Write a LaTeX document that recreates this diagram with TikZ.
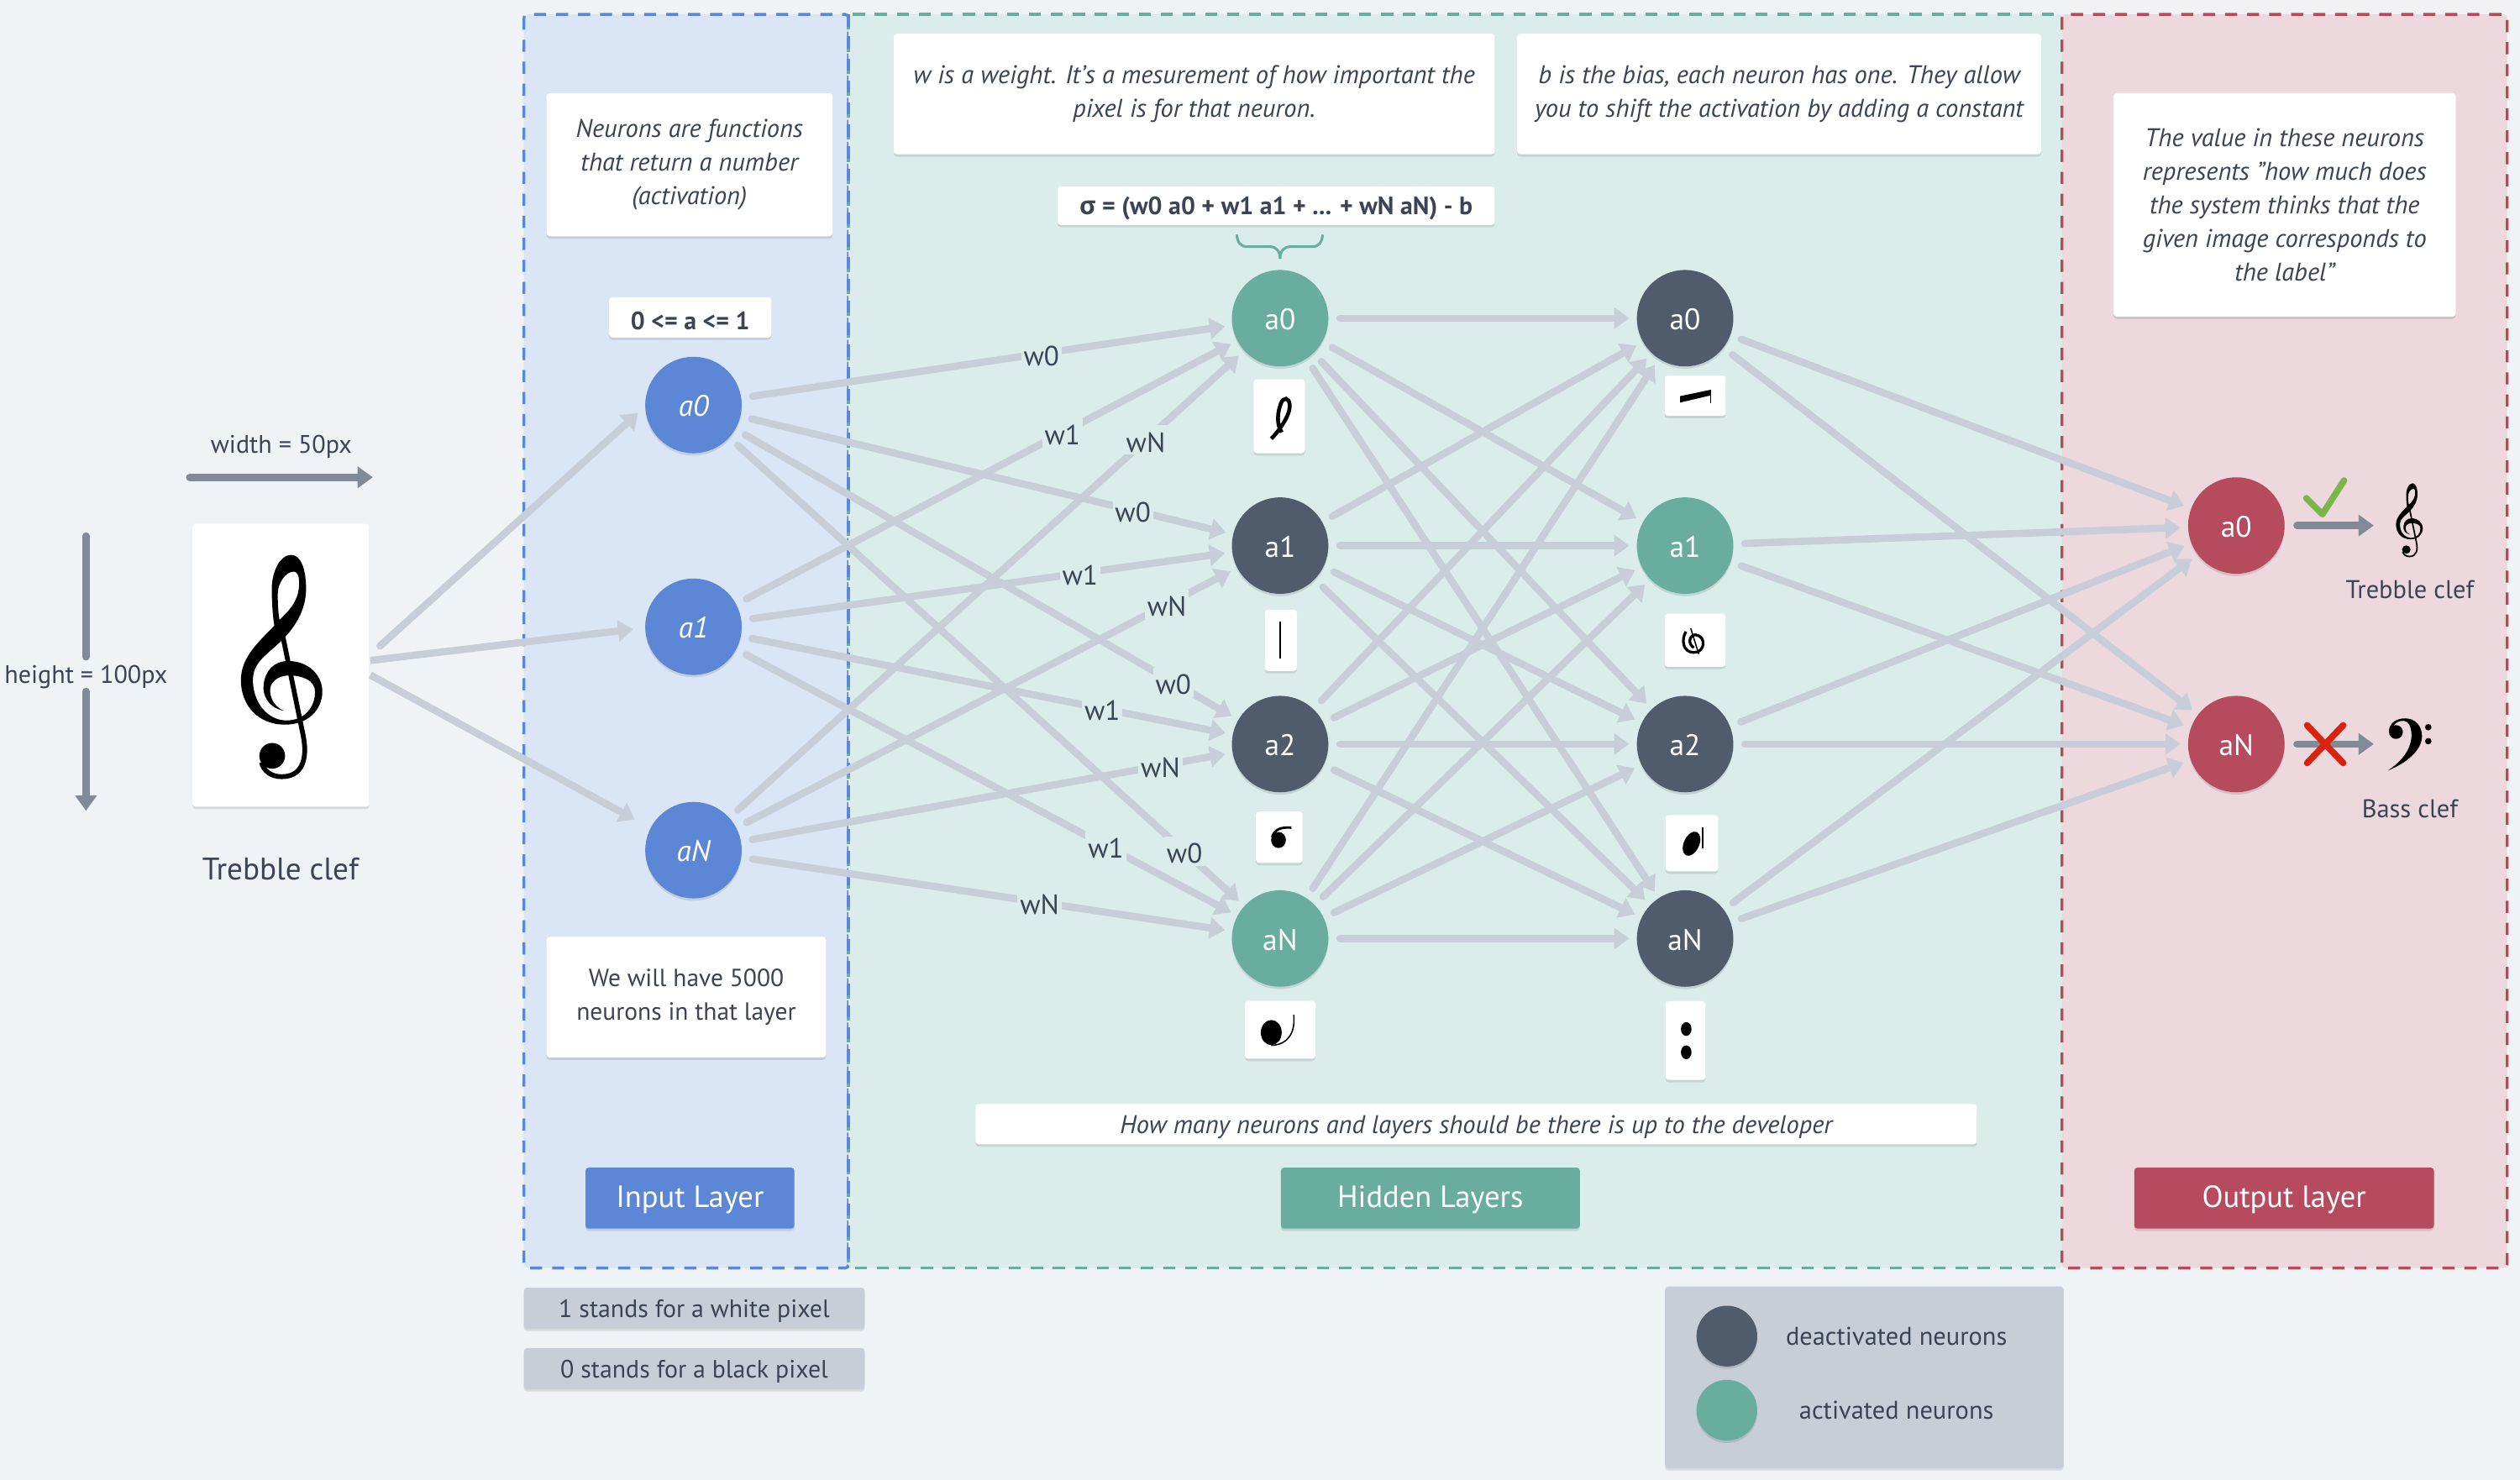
\documentclass[tikz,border=0pt]{standalone}
\usepackage{fontspec}
\setmainfont{PT Sans}
\newfontfamily\greekface{Open Sans}
\usepackage{xcolor}
\usepackage{tikz}
\usetikzlibrary{arrows.meta,calc,shadows}
\definecolor{pagebg}{HTML}{EFF3F6}
\definecolor{inputfill}{HTML}{DAE5F5}
\definecolor{hiddenfill}{HTML}{DAEDEA}
\definecolor{outputfill}{HTML}{EDD8DD}
\definecolor{inputink}{HTML}{5B87D6}
\definecolor{activeink}{HTML}{68AD9E}
\definecolor{idleink}{HTML}{505C6B}
\definecolor{outputink}{HTML}{B54B5D}
\definecolor{edgeink}{HTML}{C7CED8}
\definecolor{dimink}{HTML}{808B97}
\definecolor{textink}{HTML}{3A4454}
\definecolor{tickink}{HTML}{7AB648}
\definecolor{crossink}{HTML}{D9230F}
\tikzset{
  softshadow/.style={drop shadow={shadow xshift=0pt,shadow yshift=-1.5pt,opacity=.10,fill=black}},
  droptext/.style={execute at begin node={\rule{0pt}{#1}}},
  neurontip/.tip={Triangle[length=9.5pt,width=13pt]},
  neuron/.style={circle,inner sep=0pt,minimum size=60pt,text=white,softshadow,droptext=14.5pt,font=\fontsize{18.5}{22}\selectfont},
  panel/.style={rounded corners=2pt,line width=1.8pt,dash pattern=on 7.5pt off 6.2pt},
  synapse/.style={line width=4.5pt,edgeink,line cap=round,-{neurontip},shorten <=7pt,shorten >=4.5pt},
  feedline/.style={line width=4.5pt,edgeink,line cap=round,-{neurontip}},
  dimline/.style={line width=4.5pt,dimink,line cap=round},
  bodytext/.style={text=textink,font=\fontsize{15.7}{21}\selectfont,align=center},
  smalltext/.style={text=textink,font=\fontsize{15.9}{21}\selectfont,align=center},
  weight/.style={text=textink,font=\fontsize{17.3}{21}\selectfont,fill=hiddenfill,inner sep=1.5pt,droptext=15pt},
  notebox/.style={fill=white,rounded corners=2pt,softshadow,inner sep=0pt,text=textink,align=center,droptext=15pt,font=\fontsize{15.4}{21}\selectfont},
  greybox/.style={fill=edgeink,rounded corners=2pt,softshadow,inner sep=0pt,text=textink,align=center,droptext=15pt,font=\fontsize{15.6}{21}\selectfont},
  layerbox/.style={rounded corners=2pt,softshadow,inner sep=0pt,text=white,minimum height=38pt,droptext=16pt,font=\fontsize{19.1}{24}\selectfont},
  glyphbox/.style={fill=white,rounded corners=2pt,softshadow,inner sep=0pt},
  trebleclef/.pic={
    \fill[black,even odd rule] (7,140) .. controls (-30,130) and (-43,90) .. (-40,60)
      .. controls (-37,15) and (-15,-15) .. (17,-15)
      .. controls (65,-15) and (97,30) .. (97,80)
      .. controls (97,135) and (65,183) .. (10,183)
      .. controls (-55,183) and (-93,120) .. (-93,45)
      .. controls (-93,-25) and (-55,-70) .. (-15,-125)
      .. controls (-19,-155) and (-21,-205) .. (-21,-240)
      .. controls (-21,-285) and (-5,-345) .. (25,-345)
      .. controls (45,-345) and (59,-305) .. (59,-240)
      .. controls (59,-175) and (35,-125) .. (7,-85)
      .. controls (-30,-35) and (-65,-15) .. (-65,45)
      .. controls (-65,115) and (-30,170) .. (13,170)
      .. controls (55,170) and (80,130) .. (80,80)
      .. controls (80,45) and (50,30) .. (20,30)
      .. controls (-10,30) and (-27,55) .. (-25,80)
      .. controls (-23,110) and (-10,130) .. (7,140) -- cycle
      (-7,-225) .. controls (-7,-255) and (10,-293) .. (30,-293)
      .. controls (45,-293) and (45,-255) .. (40,-225)
      .. controls (33,-190) and (15,-165) .. (-3,-143)
      .. controls (-7,-175) and (-7,-205) .. (-7,-225) -- cycle;
    \draw[black,line width=#1] (-3,-143) -- (52,215) .. controls (62,280) and (55,345) .. (2,345)
      .. controls (-20,345) and (-40,330) .. (-45,300);
    \fill[black] (-20,280) ellipse (30 and 40);
  }
}
\begin{document}
\begin{tikzpicture}[x=1pt,y=-1pt]
\useasboundingbox (0,0) rectangle (1568,920.93);
\fill[pagebg] (0,0) rectangle (1568,920.93);
\draw[panel,inputink,fill=inputfill] (326,9) rectangle (528,789);
\draw[panel,activeink,fill=hiddenfill] (528,9) rectangle (1283,789);
\draw[panel,outputink,fill=outputfill] (1283,9) rectangle (1560,789);
\draw[panel,inputink] (528,9) -- (528,789);

\node[neuron,fill=inputink,font=\fontsize{18.5}{22}\itshape] (i0) at (431.5,252) {a0};
\node[neuron,fill=inputink,font=\fontsize{18.5}{22}\itshape] (i1) at (431.5,390) {a1};
\node[neuron,fill=inputink,font=\fontsize{18.5}{22}\itshape] (iN) at (431.5,529) {aN};
\node[neuron,fill=activeink] (h0) at (796.5,198) {a0};
\node[neuron,fill=idleink] (h1) at (796.5,339.5) {a1};
\node[neuron,fill=idleink] (h2) at (796.5,463) {a2};
\node[neuron,fill=activeink] (hN) at (796.5,584) {aN};
\node[neuron,fill=idleink] (k0) at (1048.5,198) {a0};
\node[neuron,fill=activeink] (k1) at (1048.5,339.5) {a1};
\node[neuron,fill=idleink] (k2) at (1048.5,463) {a2};
\node[neuron,fill=idleink] (kN) at (1048.5,584) {aN};
\node[neuron,fill=outputink] (o0) at (1391.5,327) {a0};
\node[neuron,fill=outputink] (oN) at (1391.5,463) {aN};

\node[fill=white,rounded corners=2pt,softshadow,minimum width=110pt,minimum height=176pt,inner sep=0pt] (clefbox) at (174.7,414) {};
\path (174.7,414.3) pic[x=.2667pt,y=-.2pt] {trebleclef=3pt};
\node[bodytext,font=\fontsize{19.4}{21}\selectfont] (cleflabel) at (174.5,541) {Trebble clef};

\draw[feedline] ([xshift=6.5pt,yshift=12pt]clefbox.east) -- ([xshift=-34.5pt,yshift=-5pt]i0.center);
\draw[feedline,line cap=butt] ([xshift=.5pt,yshift=3pt]clefbox.east) -- ([xshift=-37.5pt,yshift=-1.5pt]i1.center);
\draw[feedline,line cap=butt] ([xshift=.5pt,yshift=-6pt]clefbox.east) -- ([xshift=-36.5pt,yshift=19pt]iN.center);

\draw[synapse] (i0) -- (h0);
\draw[synapse] (i0) -- (h1);
\draw[synapse] (i0) -- (h2);
\draw[synapse] (i0) -- (hN);
\draw[synapse] (i1) -- (h0);
\draw[synapse] (i1) -- (h1);
\draw[synapse] (i1) -- (h2);
\draw[synapse] (i1) -- (hN);
\draw[synapse] (iN) -- (h0);
\draw[synapse] (iN) -- (h1);
\draw[synapse] (iN) -- (h2);
\draw[synapse] (iN) -- (hN);

\draw[synapse] (h0) -- (k0);
\draw[synapse] (h0) -- (k1);
\draw[synapse] (h0) -- (k2);
\draw[synapse] (h0) -- (kN);
\draw[synapse] (h1) -- (k0);
\draw[synapse] (h1) -- (k1);
\draw[synapse] (h1) -- (k2);
\draw[synapse] (h1) -- (kN);
\draw[synapse] (h2) -- (k0);
\draw[synapse] (h2) -- (k1);
\draw[synapse] (h2) -- (k2);
\draw[synapse] (h2) -- (kN);
\draw[synapse] (hN) -- (k0);
\draw[synapse] (hN) -- (k1);
\draw[synapse] (hN) -- (k2);
\draw[synapse] (hN) -- (kN);

\draw[synapse] (k0) -- (o0);
\draw[synapse] (k0) -- (oN);
\draw[synapse] (k1) -- (o0);
\draw[synapse] (k1) -- (oN);
\draw[synapse] (k2) -- (o0);
\draw[synapse] (k2) -- (oN);
\draw[synapse] (kN) -- (o0);
\draw[synapse] (kN) -- (oN);

\node[weight] (w00) at ($(i0)!.593!(h0)$) {w0};
\node[weight] (w10) at ($(i1)!.629!(h0)$) {w1};
\node[weight] (wN0) at ($(iN)!.771!(h0)$) {wN};
\node[weight] (w01) at ($(i0)!.749!(h1)$) {w0};
\node[weight] (w11) at ($(i1)!.659!(h1)$) {w1};
\node[weight] (wN1) at ($(iN)!.807!(h1)$) {wN};
\node[weight] (w02) at ($(i0)!.818!(h2)$) {w0};
\node[weight] (w12) at ($(i1)!.697!(h2)$) {w1};
\node[weight] (wN2) at ($(iN)!.796!(h2)$) {wN};
\node[weight] (w03) at ($(i0)!.837!(hN)$) {w0};
\node[weight] (w13) at ($(i1)!.703!(hN)$) {w1};
\node[weight] (wN3) at ($(iN)!.590!(hN)$) {wN};

\coordinate (widthstart) at (118,297);
\coordinate (widthend) at (232,297);
\coordinate (heighttop) at (53.5,333.5);
\coordinate (heightbot) at (53.5,504.5);
\node[bodytext] (widthlabel) at (175,278) {width = 50px};
\node[bodytext,minimum height=21pt,inner sep=0pt] (heightlabel) at (53.5,421) {height = 100px};
\draw[dimline,-{neurontip}] (widthstart) -- (widthend);
\draw[dimline] (heighttop) -- ([yshift=1.5pt]heightlabel.north);
\draw[dimline,-{neurontip}] ([yshift=1.5pt]heightlabel.south) -- (heightbot);

\node[notebox,droptext=19pt,font=\fontsize{15.9}{21}\itshape,minimum width=178pt,minimum height=89pt] (noteneuron) at (429,102.5) {Neurons are functions\\that return a number\\(activation)};
\node[notebox,droptext=0pt,font=\fontsize{15.6}{21}\bfseries,minimum width=101pt,minimum height=25pt] (noterange) at (429.5,197.5) {0 <= a <= 1};
\node[notebox,droptext=20pt,minimum width=174pt,minimum height=75pt] (notecount) at (427,620.5) {We will have 5000\\neurons in that layer};
\node[notebox,droptext=17pt,font=\fontsize{15.9}{21}\itshape,minimum width=374pt,minimum height=75pt] (noteweight) at (743,58.5) {w is a weight. It's a mesurement of how important the\\pixel is for that neuron.};
\node[notebox,droptext=17pt,font=\fontsize{15.9}{21}\itshape,minimum width=326pt,minimum height=75pt] (notebias) at (1107,58.5) {b is the bias, each neuron has one. They allow\\you to shift the activation by adding a constant};
\node[notebox,droptext=14pt,font=\fontsize{15.6}{21}\bfseries,minimum width=272pt,minimum height=24pt] (noteformula) at (794,128) {{\greekface σ} = (w0 a0 + w1 a1 + ... + wN aN) - b};
\node[notebox,font=\fontsize{15.9}{21}\itshape,minimum width=623pt,minimum height=25pt] (notelayers) at (918.5,699.5) {How many neurons and layers should be there is up to the developer};
\node[notebox,font=\fontsize{15.9}{21}\itshape,minimum width=213pt,minimum height=139pt] (notevalue) at (1421.5,127.5) {The value in these neurons\\represents "how much does\\the system thinks that the\\given image corresponds to\\the label"};

\draw[activeink,line width=1.6pt] (769.5,146) .. controls (770,151) and (772,153.5) .. (776,153.5) -- (790,153.5) .. controls (794,153.5) and (796.5,156) .. (796.5,161);
\draw[activeink,line width=1.6pt] (823,146) .. controls (822.5,151) and (820.5,153.5) .. (816.5,153.5) -- (803,153.5) .. controls (799,153.5) and (796.5,156) .. (796.5,161);

\node[glyphbox,minimum width=32pt,minimum height=46pt] (glyphh0) at (796,259) {};
\node[glyphbox,minimum width=20pt,minimum height=38pt] (glyphh1) at (797,398.5) {};
\node[glyphbox,minimum width=29pt,minimum height=32pt] (glyphh2) at (796,521) {};
\node[glyphbox,minimum width=44pt,minimum height=36pt] (glyphhN) at (796.5,640.8) {};
\node[glyphbox,minimum width=38pt,minimum height=25pt] (glyphk0) at (1054.8,246.2) {};
\node[glyphbox,minimum width=38pt,minimum height=33pt] (glyphk1) at (1054.8,398.4) {};
\node[glyphbox,minimum width=33pt,minimum height=35pt] (glyphk2) at (1052.7,524.7) {};
\node[glyphbox,minimum width=25pt,minimum height=49pt] (glyphkN) at (1048.7,647.5) {};

\draw[black,line width=2.4pt] (791,273) .. controls (796,268) and (803,258) .. (802.5,252) .. controls (802,247) and (798.5,247) .. (797,251) .. controls (795,256) and (794,264) .. (797.5,269);
\draw[black,line width=1.2pt] (796.7,387) -- (796.7,410);
\fill[black] (795.5,522.7) ellipse (4.6 and 5);
\draw[black,line width=1.5pt] (791.5,521) .. controls (793,516) and (797,514.5) .. (803.5,515);
\fill[black] (791,642.5) ellipse (6.5 and 7.8);
\draw[black,line width=.8pt] (805,631.5) .. controls (806,642) and (802,650) .. (791,650.5);
\fill[black] (1045.4,246.5) -- (1064.5,242.5) -- (1064.5,246) -- (1045.4,250.5) -- cycle;
\draw[black,line width=.7pt] (1064.3,242.5) -- (1064.3,251);
\draw[black,line width=1.7pt] (1049,393) .. controls (1046,398) and (1047,406) .. (1054,406) .. controls (1061,406) and (1062,396) .. (1055,395) .. controls (1051,395) and (1050,401) .. (1054,403);
\draw[black,line width=.8pt] (1052,391) -- (1057,407);
\fill[black,rotate around={-25:(1052.5,525)}] (1052.5,525) ellipse (4.8 and 8);
\draw[black,line width=.9pt] (1059.5,515) -- (1059.5,528);
\fill[black] (1049.2,640.3) ellipse (3.3 and 4.3);
\fill[black] (1049.2,654.8) ellipse (3.3 and 4.3);

\node[layerbox,fill=inputink,minimum width=130pt] (inputlayer) at (429.3,745.5) {Input Layer};
\node[layerbox,fill=activeink,minimum width=186pt] (hiddenlayer) at (890,745.5) {Hidden Layers};
\node[layerbox,fill=outputink,minimum width=186.5pt] (outputlayer) at (1421.2,745.5) {Output layer};

\node[greybox,minimum width=212pt,minimum height=25.5pt] (whitenote) at (432,814) {1 stands for a white pixel};
\node[greybox,minimum width=212pt,minimum height=25.5pt] (blacknote) at (432,851.6) {0 stands for a black pixel};

\node[greybox,minimum width=248pt,minimum height=113pt] (legendbox) at (1160,857) {};
\node[neuron,fill=idleink,minimum size=37.8pt] (legenddark) at (1074.5,831.4) {};
\node[neuron,fill=activeink,minimum size=37.8pt] (legendgreen) at (1074.5,877.5) {};
\node[smalltext] (legenddarklabel) at (1180,831.5) {deactivated neurons};
\node[smalltext] (legendgreenlabel) at (1180,877.5) {activated neurons};

\coordinate (trebleend) at (1477,327);
\coordinate (bassend) at (1477,463);
\draw[dimline,-{neurontip},shorten <=7.5pt] (o0) -- (trebleend);
\draw[dimline,-{neurontip},shorten <=7.5pt] (oN) -- (bassend);
\draw[tickink,line width=4pt,line cap=round,line join=round] (1435,310) -- (1445,320) -- (1458.5,299);
\draw[crossink,line width=4pt,line cap=round] (1435.5,451.3) -- (1458,474.8);
\draw[crossink,line width=4pt,line cap=round] (1458,451.3) -- (1435.5,474.8);

\path (1499,323.5) pic[x=.088pt,y=-.066pt] {trebleclef=.9pt};
\fill[black] (1486.5,455) .. controls (1486.5,450) and (1491,447) .. (1496.5,447) .. controls (1503,447) and (1507,452) .. (1507,458) .. controls (1507,467) and (1497,475) .. (1485.7,479.5) .. controls (1494,474) and (1500,467) .. (1500.5,458) .. controls (1500.5,452) and (1498.5,448.5) .. (1495.5,448.5) .. controls (1492.5,448.5) and (1490,450) .. (1489.5,451.5) -- cycle;
\fill[black] (1490.8,455.5) circle (4.3);
\fill[black] (1510.9,452.5) circle (2);
\fill[black] (1510.9,461.2) circle (2);

\node[smalltext] (treblelabel) at (1499.5,367) {Trebble clef};
\node[smalltext] (basslabel) at (1499.5,503.5) {Bass clef};
\end{tikzpicture}
\end{document}
